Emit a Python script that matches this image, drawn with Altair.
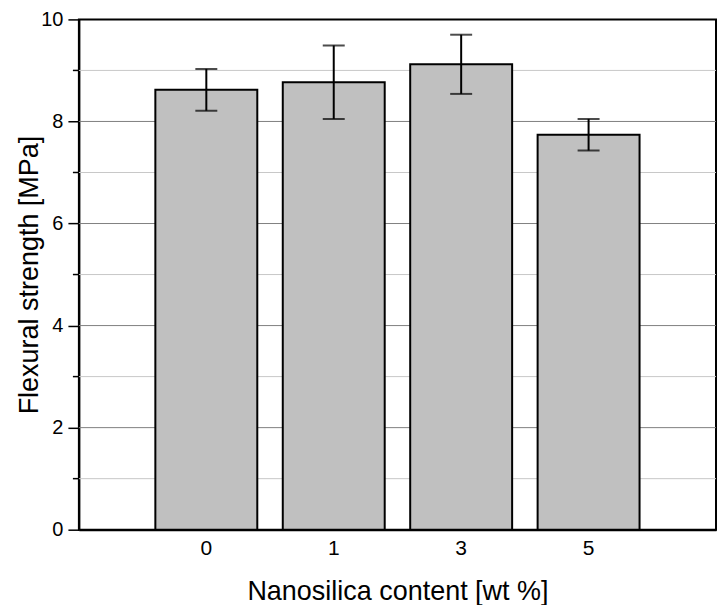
import altair as alt
import pandas as pd

categories = ["0", "1", "3", "5"]
strength = [8.62, 8.77, 9.12, 7.74]
err = [0.41, 0.72, 0.58, 0.31]
major_grid = [2, 4, 6, 8]
minor_grid = [1, 3, 5, 7, 9]
y_ticks = [0, 2, 4, 6, 8, 10]

df = pd.DataFrame({"cat": categories, "val": strength, "err": err})
df["lo"] = df["val"] - df["err"]
df["hi"] = df["val"] + df["err"]

FONT = "Liberation Sans"
yscale = alt.Scale(domain=[0, 10], nice=False, zero=True)
xscale = alt.Scale(domain=categories, paddingInner=0.2, paddingOuter=0.6)

x_axis = alt.Axis(title="Nanosilica content [wt %]", ticks=False,
                  labelAngle=0, labelPadding=8, labelFontSize=21,
                  titleY=70, titleBaseline="alphabetic")
y_axis = alt.Axis(title="Flexural strength [MPa]", values=y_ticks,
                  grid=False, tickSize=11, labelPadding=5, labelFontSize=20,
                  titleX=-41, titleBaseline="alphabetic", titleAlign="center")


def X():
    return alt.X("cat:N", scale=xscale, sort=categories, axis=x_axis)


def Y(field):
    return alt.Y(field, scale=yscale, axis=y_axis)


base = alt.Chart(df)

minor = alt.Chart(pd.DataFrame({"v": minor_grid})).mark_rule(
    color="#c8c8c8", strokeWidth=1).encode(y=Y("v:Q"))
minor_ticks = alt.Chart(pd.DataFrame({"v": minor_grid})).mark_rule(
    color="black", strokeWidth=1.5).encode(
    y=Y("v:Q"), x=alt.value(-6), x2=alt.value(0))
major = alt.Chart(pd.DataFrame({"v": major_grid})).mark_rule(
    color="#808080", strokeWidth=1).encode(y=Y("v:Q"))

bars = base.mark_bar(fill="#c0c0c0", stroke="black", strokeWidth=2).encode(
    x=X(), y=Y("val:Q"))

rules = base.mark_rule(color="black", strokeWidth=2).encode(
    x=X(), y=Y("lo:Q"), y2="hi:Q")
cap_hi = base.mark_tick(color="black", thickness=2, size=22, orient="horizontal").encode(
    x=X(), y=Y("hi:Q"))
cap_lo = base.mark_tick(color="black", thickness=2, size=22, orient="horizontal").encode(
    x=X(), y=Y("lo:Q"))

chart = alt.layer(minor, major, minor_ticks, bars, rules, cap_hi, cap_lo).properties(
    width=638, height=511,
    autosize=alt.AutoSizeParams(type="none"),
    padding={"left": 71, "top": 11, "right": 4, "bottom": 75},
    background="white",
).configure_view(
    stroke="black", strokeWidth=2
).configure_axis(
    labelFont=FONT, titleFont=FONT, titleFontSize=27,
    labelColor="black", titleColor="black", titleFontWeight="normal",
    domainColor="black", domainWidth=2, tickColor="black", tickWidth=1.5,
)

chart.save("out.html", embed_options={"renderer": "svg", "actions": False})
